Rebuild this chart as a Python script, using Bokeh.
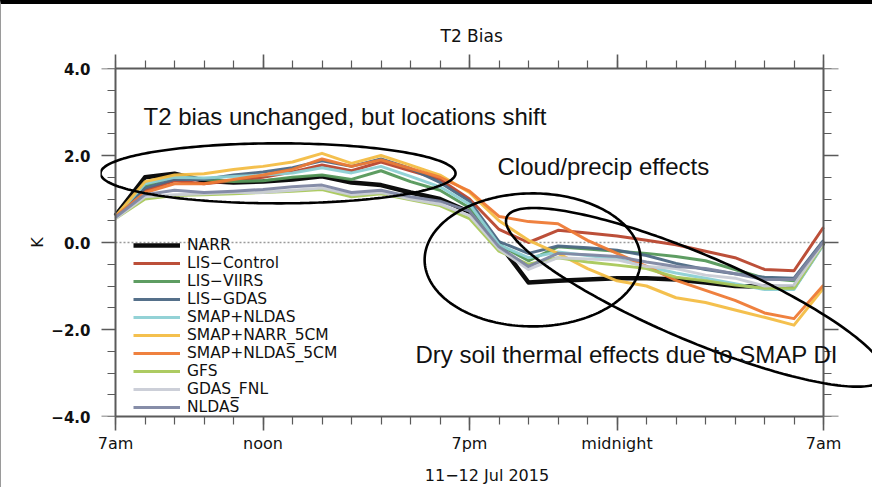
import numpy as np
from bokeh.plotting import figure
from bokeh.models import (Range1d, LinearAxis, FixedTicker, Label,
                          Legend, LegendItem, PolyAnnotation)
from bokeh.embed import file_html
from bokeh.resources import INLINE

# ---- data: hourly 2-m temperature bias (K), 7am 11 Jul -> 7am 12 Jul 2015 ----
hours = list(range(25))

narr = [0.62, 1.50, 1.58, 1.42, 1.38, 1.40, 1.45, 1.52, 1.38, 1.32, 1.15, 1.00, 0.70,
        -0.02, -0.92, -0.88, -0.85, -0.82, -0.82, -0.85, -0.92, -1.00, -1.02, -1.03, 0.00]
lis_control = [0.60, 1.20, 1.42, 1.35, 1.42, 1.50, 1.62, 1.78, 1.65, 1.85, 1.65, 1.45, 1.00,
               0.30, 0.00, 0.28, 0.22, 0.15, 0.05, -0.05, -0.20, -0.35, -0.62, -0.65, 0.35]
lis_viirs = [0.60, 1.30, 1.52, 1.45, 1.40, 1.42, 1.50, 1.55, 1.45, 1.65, 1.40, 1.20, 0.80,
             -0.05, -0.42, -0.10, -0.15, -0.20, -0.25, -0.32, -0.42, -0.62, -0.82, -0.88, 0.00]
lis_gdas = [0.60, 1.25, 1.45, 1.45, 1.55, 1.62, 1.72, 1.88, 1.75, 1.92, 1.70, 1.38, 0.95,
            0.02, -0.25, -0.08, -0.12, -0.18, -0.30, -0.48, -0.62, -0.72, -0.80, -0.82, 0.05]
smap_nldas = [0.60, 1.35, 1.50, 1.48, 1.52, 1.55, 1.60, 1.72, 1.60, 1.75, 1.52, 1.28, 0.88,
              -0.05, -0.35, -0.22, -0.30, -0.38, -0.55, -0.70, -0.82, -0.95, -1.08, -1.08, -0.05]
smap_narr_5cm = [0.60, 1.40, 1.55, 1.58, 1.68, 1.75, 1.85, 2.05, 1.82, 2.00, 1.78, 1.55, 1.15,
                 0.50, 0.05, -0.25, -0.60, -0.88, -1.00, -1.27, -1.38, -1.55, -1.72, -1.90, -1.05]
smap_nldas_5cm = [0.60, 1.15, 1.35, 1.35, 1.45, 1.55, 1.68, 1.92, 1.75, 1.90, 1.70, 1.50, 1.18,
                  0.60, 0.48, 0.43, 0.05, -0.25, -0.55, -0.87, -1.10, -1.33, -1.62, -1.75, -0.98]
gfs = [0.55, 1.00, 1.08, 1.10, 1.12, 1.15, 1.18, 1.22, 1.05, 1.12, 0.98, 0.85, 0.55,
       -0.20, -0.50, -0.35, -0.45, -0.52, -0.60, -0.80, -0.88, -0.98, -1.05, -1.05, -0.02]
gdas_fnl = [0.55, 1.05, 1.10, 1.12, 1.15, 1.15, 1.20, 1.25, 1.10, 1.15, 1.00, 0.88, 0.62,
            -0.15, -0.62, -0.35, -0.38, -0.40, -0.55, -0.60, -0.75, -0.82, -1.00, -0.98, 0.00]
nldas = [0.58, 1.10, 1.20, 1.15, 1.18, 1.22, 1.28, 1.32, 1.15, 1.20, 1.05, 0.95, 0.72,
         -0.10, -0.55, -0.25, -0.28, -0.32, -0.45, -0.55, -0.60, -0.72, -0.85, -0.85, 0.02]

series_names = ["NARR", "LIS\u2212Control", "LIS\u2212VIIRS", "LIS\u2212GDAS", "SMAP+NLDAS",
                "SMAP+NARR_5CM", "SMAP+NLDAS_5CM", "GFS", "GDAS_FNL", "NLDAS"]
series_values = [narr, lis_control, lis_viirs, lis_gdas, smap_nldas,
                 smap_narr_5cm, smap_nldas_5cm, gfs, gdas_fnl, nldas]
series_colors = ["#000000", "#b8462e", "#55985a", "#4c6884", "#8dd0d4",
                 "#f3bd45", "#ee7a35", "#a9c85a", "#c9ccd6", "#7f87a3"]
series_widths = [4.5, 3, 3, 3, 3, 3, 3, 3, 3, 3]

x_tick_values = [0, 5, 12, 17, 24]
x_tick_labels = ["7am", "noon", "7pm", "midnight", "7am"]
y_tick_values = [-4, -2, 0, 2, 4]
y_tick_labels = ["\u22124.0", "\u22122.0", "0.0", "2.0", "4.0"]

# ---- layout ----
# The plotting frame is wider than the boxed axes so that the callout
# ellipses can run past the box; the box edges are axes pinned at
# x = 0 and x = 24 with fixed_location.
BAR_TOP, BAR_LEFT = 4, 1           # page rules: black along the top, grey at the left
W, H = 873 - BAR_LEFT, 491 - BAR_TOP
FRAME_L, TOP, BOTTOM = 100 - BAR_LEFT, 68 - BAR_TOP, 75
BOX_L, BOX_R = 115 - BAR_LEFT, 823 - BAR_LEFT   # pixel columns of the boxed area
X0, X1, Y0, Y1 = hours[0], hours[-1], -4, 4
PX_X = (BOX_R - BOX_L) / (X1 - X0)
PX_Y = (H - TOP - BOTTOM) / (Y1 - Y0)
x_start = X0 - (BOX_L - FRAME_L) / PX_X
x_end = X1 + (W - BOX_R) / PX_X

p = figure(width=W, height=H, x_range=Range1d(x_start, x_end), y_range=Range1d(Y0, Y1),
           x_axis_type=None, y_axis_type=None, output_backend="svg",
           toolbar_location=None, min_border_left=FRAME_L, min_border_right=0,
           min_border_top=TOP, min_border_bottom=BOTTOM)
p.styles = {"border-top": f"{BAR_TOP}px solid #000000",
            "border-left": f"{BAR_LEFT}px solid #9a9a9a"}
p.outline_line_color = None
p.background_fill_color = "white"
p.border_fill_color = "white"

AXIS_GREY = "#5a5a5a"


def style_axis(ax, labels=True, ticks="out", rule=True):
    ax.axis_line_color = AXIS_GREY if rule else None
    ax.axis_line_width = 2
    ax.major_tick_line_color = AXIS_GREY if ticks else None
    ax.major_tick_line_width = 1.6
    ax.minor_tick_line_color = AXIS_GREY if ticks else None
    ax.minor_tick_line_width = 1.2
    if ticks == "in":
        ax.major_tick_out, ax.major_tick_in = 0, 15
        ax.minor_tick_out, ax.minor_tick_in = 0, 8
    elif ticks == "out":
        ax.major_tick_out, ax.major_tick_in = 14, 0
        ax.minor_tick_out, ax.minor_tick_in = 8, 0
    else:
        ax.major_tick_out = ax.major_tick_in = 0
        ax.minor_tick_out = ax.minor_tick_in = 0
    if not labels:
        ax.major_label_text_color = None
        ax.major_label_text_font_size = "0px"
        ax.major_label_standoff = 0


xticker = FixedTicker(ticks=x_tick_values, minor_ticks=hours)
yticker = FixedTicker(ticks=y_tick_values,
                      minor_ticks=[v / 2 for v in range(-8, 9)])

xb = LinearAxis(ticker=xticker, axis_label="11\u221212 Jul 2015", bounds=(X0, X1))
style_axis(xb)
xb.major_label_overrides = {v: t for v, t in zip(x_tick_values, x_tick_labels)}
xb.major_label_text_font = "DejaVu Sans"
xb.major_label_text_font_size = "16px"
xb.major_label_text_color = "#111111"
xb.major_label_standoff = 3
xb.axis_label_text_font = "DejaVu Sans"
xb.axis_label_text_font_size = "16px"
xb.axis_label_text_font_style = "normal"
xb.axis_label_text_color = "#111111"
xb.axis_label_standoff = 10
p.add_layout(xb, "below")

xa = LinearAxis(ticker=xticker, bounds=(X0, X1))
style_axis(xa, labels=False)
p.add_layout(xa, "above")

# y tick labels and the "K" title sit on the frame's left edge
yl = LinearAxis(ticker=yticker, axis_label="K")
style_axis(yl, ticks=None, rule=False)
yl.major_label_overrides = {v: t for v, t in zip(y_tick_values, y_tick_labels)}
yl.major_label_text_font = "DejaVu Sans"
yl.major_label_text_font_size = "15px"
yl.major_label_text_font_style = "bold"
yl.major_label_text_color = "#111111"
yl.major_label_standoff = 10
yl.axis_label_text_font = "DejaVu Sans"
yl.axis_label_text_font_size = "16px"
yl.axis_label_text_font_style = "normal"
yl.axis_label_text_color = "#111111"
yl.axis_label_standoff = 1
p.add_layout(yl, "left")

# left and right edges of the box, pinned at the first and last hour
box_left = LinearAxis(ticker=yticker, fixed_location=X0)
style_axis(box_left, labels=False, ticks="out")
p.add_layout(box_left, "left")

box_right = LinearAxis(ticker=yticker, fixed_location=X1)
style_axis(box_right, labels=False, ticks="in")
p.add_layout(box_right, "left")

p.title.text = "T2 Bias"
p.title.align = "left"
p.title.offset = 340
p.title.text_font = "DejaVu Sans"
p.title.text_font_size = "17px"
p.title.text_font_style = "normal"
p.title.text_color = "#111111"
p.title.standoff = 18

# zero reference line across the box
p.segment(x0=[X0], x1=[X1], y0=[0], y1=[0], line_color="#9a9a9a",
          line_width=1.6, line_dash="2 2")

# ---- series ----
items = []
for name, vals, col, lw in zip(series_names, series_values, series_colors, series_widths):
    r = p.line(hours, vals, line_color=col, line_width=lw, line_alpha=0.95,
               line_join="round")
    items.append(LegendItem(label=name, renderers=[r]))

legend = Legend(items=items, location=(33, 0), orientation="vertical",
                glyph_width=47, glyph_height=14, label_height=14, spacing=0,
                padding=0, margin=0, label_standoff=7,
                label_text_font="DejaVu Sans", label_text_font_size="15.5px",
                label_text_color="#111111",
                background_fill_alpha=0, border_line_alpha=0)
p.add_layout(legend)

# ---- callout ellipses (centre in data units, semi-axes in pixels) ----


def ellipse_outline(cx, cy, a_px, b_px, angle_deg, n=240):
    t = np.linspace(0, 2 * np.pi, n)
    th = np.deg2rad(angle_deg)
    sx = a_px * np.cos(t) * np.cos(th) - b_px * np.sin(t) * np.sin(th)
    sy = a_px * np.cos(t) * np.sin(th) + b_px * np.sin(t) * np.cos(th)
    return list(cx + sx / PX_X), list(cy - sy / PX_Y)


for cx, cy, a, b, ang in [(5.51, 1.59, 177.5, 30, 0),
                          (14.14, -0.40, 108, 66.5, 0),
                          (19.66, -1.26, 205, 43, 23)]:
    xs, ys = ellipse_outline(cx, cy, a, b, ang)
    p.add_layout(PolyAnnotation(xs=xs, ys=ys, fill_alpha=0, line_color="black",
                                line_alpha=1, line_width=2.6))

# ---- callout texts ----
for tx, ty, txt in [(0.95, 2.90, "T2 bias unchanged, but locations shift"),
                    (12.95, 1.75, "Cloud/precip effects"),
                    (10.17, -2.57, "Dry soil thermal effects due to SMAP DI")]:
    p.add_layout(Label(x=tx, y=ty, text=txt, text_font="Liberation Sans",
                       text_font_size="24px", text_color="#111111",
                       text_baseline="middle", text_align="left"))

open("out.html", "w").write(file_html(p, INLINE))
